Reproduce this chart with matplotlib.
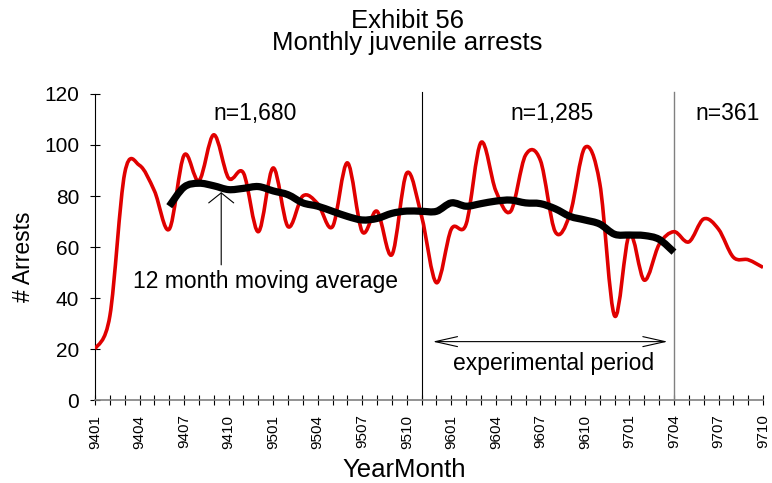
import numpy as np
import matplotlib.pyplot as plt
from matplotlib.path import Path
from matplotlib.patches import PathPatch

plt.rcParams['font.family'] = ['Liberation Sans', 'DejaVu Sans']

# monthly juvenile arrests, Jan 1994 .. Oct 1997
months = [f'{y}{m:02d}' for y in (94, 95, 96, 97) for m in range(1, 13)][:46]
arrests = [20, 33, 89, 92, 82, 67, 96, 86, 104, 87, 89, 66,
           91, 68, 80, 77, 68, 93, 66, 74, 57, 89, 72, 46,
           67, 69, 101, 82, 74, 96, 94, 66, 73, 99, 85, 33,
           65, 47, 61, 66, 62, 71, 67, 56, 55, 52]

# 12 month moving average, 9406 .. 9704
ma_start = 5
moving_avg = [76, 83.5, 85, 84, 82.5, 83, 83.7, 82, 80.5, 77.3, 76, 74,
              72, 70.6, 71.2, 73.2, 74.1, 74, 74, 77.3, 76, 77, 78, 78.4,
              77.3, 77, 75, 72, 70.6, 69, 65, 64.7, 64.5, 63, 58]

period_breaks = [22, 39]          # 9511 and 9704
period_counts = ['n=1,680', 'n=1,285', 'n=361']
count_x = [10.8, 30.8, 42.6]


def smooth_path(x, y):
    # bezier curve through the points, spreadsheet style smoothing
    x = np.asarray(x, float)
    y = np.asarray(y, float)
    n = len(x)
    verts = [(x[0], y[0])]
    codes = [Path.MOVETO]
    for i in range(n - 1):
        a = max(i - 1, 0)
        b = min(i + 2, n - 1)
        c1 = (x[i] + (x[i + 1] - x[a]) / 6, y[i] + (y[i + 1] - y[a]) / 6)
        c2 = (x[i + 1] - (x[b] - x[i]) / 6, y[i + 1] - (y[b] - y[i]) / 6)
        verts += [c1, c2, (x[i + 1], y[i + 1])]
        codes += [Path.CURVE4] * 3
    return Path(verts, codes)


fig = plt.figure(figsize=(7.72, 4.83), dpi=100)
ax = fig.add_axes([0.1231, 0.1718, 0.8653, 0.6336])

xi = np.arange(len(arrests))
ax.add_patch(PathPatch(smooth_path(xi, arrests), fill=False,
                       edgecolor='#e00000', lw=2.6, joinstyle='round', zorder=3))
xm = np.arange(ma_start, ma_start + len(moving_avg))
ax.add_patch(PathPatch(smooth_path(xm, moving_avg), fill=False,
                       edgecolor='black', lw=5.2, joinstyle='round',
                       capstyle='butt', zorder=4))

ax.plot([period_breaks[0]] * 2, [0, 120.8], color='black', lw=0.8, clip_on=False)
ax.plot([period_breaks[1]] * 2, [0, 120.8], color='#808080', lw=1.0, clip_on=False)

for label, x in zip(period_counts, count_x):
    ax.text(x, 112.5, label, ha='center', va='center', fontsize=16.5)

ax.annotate('', xy=(8.5, 81.5), xytext=(8.5, 53),
            arrowprops=dict(arrowstyle='->,head_length=0.72,head_width=0.9',
                            lw=0.8, color='black', shrinkA=0, shrinkB=0,
                            mutation_scale=10))
ax.text(11.45, 46.3, '12 month moving average', ha='center', va='center', fontsize=16.5)

ax.annotate('', xy=(22.75, 22.9), xytext=(38.57, 22.9),
            arrowprops=dict(arrowstyle='<->,head_length=1.6,head_width=0.36',
                            lw=0.8, color='black', shrinkA=0, shrinkB=0,
                            mutation_scale=10))
ax.text(30.87, 14.5, 'experimental period', ha='center', va='center', fontsize=16.5)

ax.set_xlim(0, 45)
ax.set_ylim(0, 120)
ax.set_yticks(range(0, 121, 20))
ax.set_xticks(range(0, 46, 3), months[::3], rotation=90)
ax.set_xticks(xi, minor=True)
ax.tick_params(axis='y', direction='inout', length=7, width=0.8, labelsize=15, pad=8)
ax.tick_params(axis='x', which='both', direction='inout', length=7, width=0.8,
               labelsize=11, pad=7)

for s in ('top', 'right'):
    ax.spines[s].set_visible(False)
ax.spines['left'].set_linewidth(0.8)
ax.spines['bottom'].set_color('#808080')
ax.spines['bottom'].set_linewidth(1.2)

fig.text(0.031, 0.468, '# Arrests', rotation=90, ha='center', va='center', fontsize=16.5)
fig.text(0.523, 0.0124, 'YearMonth', ha='center', va='baseline', fontsize=18.5)
fig.text(0.528, 1 - 28 / 483, 'Exhibit 56', ha='center', va='baseline', fontsize=18.5)
fig.text(0.528, 1 - 50 / 483, 'Monthly juvenile arrests', ha='center', va='baseline',
         fontsize=18.5)

fig.savefig('out.png', dpi=100)
